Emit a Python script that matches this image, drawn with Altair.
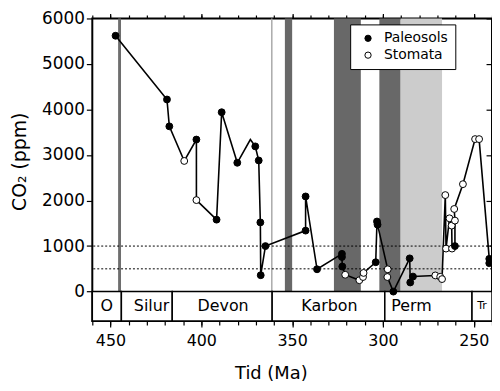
import altair as alt
import pandas as pd

# ---- data ----
ages = [447.2, 418.9, 417.6, 409.4, 402.7, 402.7, 391.6, 388.8, 380.2, 373.0,
        370.3, 368.4, 367.5, 367.3, 364.7, 342.6, 342.6, 336.3, 322.6, 322.6,
        322.4, 320.8, 313.0, 311.0, 310.7, 304.0, 303.3, 303.0, 297.4, 297.6,
        294.3, 285.3, 285.0, 283.5, 271.2, 268.5, 267.5, 265.7, 265.3, 263.4,
        262.2, 262.0, 260.4, 260.4, 260.8, 256.0, 249.3, 247.1, 241.5, 241.5]
co2 = [5620, 4220, 3630, 2870, 3340, 2010, 1580, 3940, 2830, 3340,
       3190, 2880, 1520, 360, 1000, 1340, 2090, 490, 830, 760,
       550, 370, 250, 320, 410, 645, 1540, 1470, 490, 320,
       0, 730, 200, 330, 355, 325, 275, 2120, 945, 1610,
       1450, 945, 1000, 1560, 1815, 2360, 3350, 3350, 720, 625]
kinds = ["Paleosols", "Paleosols", "Paleosols", "Stomata", "Paleosols", "Stomata", "Paleosols", "Paleosols", "Paleosols", "",
         "Paleosols", "Paleosols", "Paleosols", "Paleosols", "Paleosols", "Paleosols", "Paleosols", "Paleosols", "Paleosols", "Paleosols",
         "Paleosols", "Stomata", "Stomata", "Stomata", "Stomata", "Paleosols", "Paleosols", "Paleosols", "Stomata", "Stomata",
         "Paleosols", "Paleosols", "Paleosols", "Paleosols", "Stomata", "Stomata", "Stomata", "Stomata", "Stomata", "Stomata",
         "Stomata", "Stomata", "Paleosols", "Stomata", "Stomata", "Stomata", "Stomata", "Stomata", "Paleosols", "Paleosols"]

band_start = [445.8, 361.6, 354.0, 327.0, 302.0, 290.3]
band_end = [444.2, 360.8, 350.0, 312.2, 290.3, 267.5]
band_color = ["#6e6e6e", "#a8a8a8", "#686868", "#686868", "#686868", "#cccccc"]

period_names = ["O", "Silur", "Devon", "Karbon", "Perm", "Tr"]
period_start = [460, 444, 416, 361, 299, 251]
period_end = [444, 416, 361, 299, 251, 240]
period_label_age = [452, 427.4, 388, 329.5, 284.3, 245.5]
period_label_size = [16, 16, 16, 16, 16, 11]

ref_levels = [1000, 500]

x_major = [450, 400, 350, 300, 250]
x_minor = list(range(460, 239, -10))
y_major = [0, 1000, 2000, 3000, 4000, 5000, 6000]
y_right = [1000, 2000, 3000, 4000, 5000, 6000]

Y_TOP, Y_BOTTOM = 6000, -645
X_MIN, X_MAX = 240, 460

# ---- tables ----
pts = pd.DataFrame({"age": ages, "co2": co2, "kind": kinds, "idx": range(len(ages))})
bands = pd.DataFrame({"start": band_start, "end": band_end, "color": band_color,
                      "top": Y_TOP, "bottom": 0})
periods = pd.DataFrame({"name": period_names, "start": period_start, "end": period_end,
                        "lab": period_label_age, "size": period_label_size,
                        "low": Y_BOTTOM, "high": 0, "ly": -310})
refs = pd.DataFrame({"level": ref_levels})

xs = alt.Scale(domain=[X_MIN, X_MAX], reverse=True, nice=False, zero=False)
ys = alt.Scale(domain=[Y_BOTTOM, Y_TOP], nice=False, zero=False)

ax_bottom_major = alt.Axis(orient="bottom", values=x_major, tickSize=6, labelPadding=6,
                           labelFontSize=16, domain=False, grid=False, title="Tid (Ma)",
                           titleFontSize=18, titleFontWeight="normal", titleX=180, titleY=58,
                           titleBaseline="alphabetic", titleAlign="center")
ax_bottom_minor = alt.Axis(orient="bottom", values=x_minor, tickSize=4, labels=False,
                           domain=False, grid=False, title=None)
ax_top_major = alt.Axis(orient="top", values=x_major, tickSize=5, labels=False,
                        domain=False, grid=False, title=None)
ax_top_minor = alt.Axis(orient="top", values=x_minor, tickSize=3.5, labels=False,
                        domain=False, grid=False, title=None)
ax_left = alt.Axis(orient="left", values=y_major, format="d", tickSize=6, labelPadding=2,
                   labelFontSize=17, domain=False, grid=False, title="CO₂ (ppm)", titleFontSize=19,
                   titleFontWeight="normal", titleX=-73, titleY=144, titleAngle=270,
                   titleBaseline="middle", titleAlign="center")
ax_right = alt.Axis(orient="right", values=y_right, tickSize=6, offset=-6, labels=False,
                    domain=False, grid=False, title=None)

band_layer = alt.Chart(bands).mark_rect().encode(
    x=alt.X("start:Q", scale=xs, axis=ax_bottom_major),
    x2="end:Q",
    y=alt.Y("top:Q", scale=ys, axis=ax_left),
    y2="bottom:Q",
    fill=alt.Fill("color:N", scale=None),
)

period_layer = alt.Chart(periods).mark_rect(fill="white", stroke="black", strokeWidth=1.5).encode(
    x=alt.X("start:Q", scale=xs, axis=ax_bottom_minor),
    x2="end:Q",
    y=alt.Y("low:Q", scale=ys, axis=ax_right),
    y2="high:Q",
)

period_text = alt.Chart(periods).mark_text(baseline="middle", align="center", color="black").encode(
    x=alt.X("lab:Q", scale=xs, axis=ax_top_major),
    y=alt.Y("ly:Q", scale=ys, axis=None),
    text="name:N",
    size=alt.Size("size:Q", scale=None, legend=None),
)

ref_layer = alt.Chart(refs).mark_rule(color="black", strokeWidth=1, strokeDash=[2, 2]).encode(
    y=alt.Y("level:Q", scale=ys, axis=None),
)

line_layer = alt.Chart(pts).mark_line(color="black", strokeWidth=1.6).encode(
    x=alt.X("age:Q", scale=xs, axis=ax_top_minor),
    y=alt.Y("co2:Q", scale=ys, axis=None),
    order=alt.Order("idx:Q"),
)

point_layer = alt.Chart(pts).transform_filter(alt.datum.kind != "").mark_point(
    shape="circle", filled=True, size=48, stroke="black", strokeWidth=1, opacity=1
).encode(
    x=alt.X("age:Q", scale=xs, axis=None),
    y=alt.Y("co2:Q", scale=ys, axis=None),
    fill=alt.Fill("kind:N",
                  scale=alt.Scale(domain=["Paleosols", "Stomata"], range=["black", "white"]),
                  legend=alt.Legend(orient="none", legendX=260, legendY=6, title=None,
                                    fillColor="white", strokeColor="black", padding=7,
                                    labelFontSize=14, symbolSize=40, symbolType="circle",
                                    symbolStrokeColor="black", symbolStrokeWidth=1,
                                    symbolOffset=4, labelOffset=9, rowPadding=3)),
)

chart = alt.layer(band_layer, period_layer, period_text, ref_layer, line_layer, point_layer).resolve_axis(
    x="independent", y="independent"
).properties(
    width=403, height=305,
    autosize=alt.AutoSizeParams(type="none"),
    padding={"left": 85, "top": 9, "right": 0, "bottom": 60},
).configure(font="DejaVu Sans").configure_view(
    stroke="black", strokeWidth=2
).configure_axis(
    tickColor="black", labelColor="black", titleColor="black", tickWidth=1.2
).configure_legend(
    labelColor="black"
)

chart.save("out.html", embed_options={"renderer": "svg", "actions": False})
